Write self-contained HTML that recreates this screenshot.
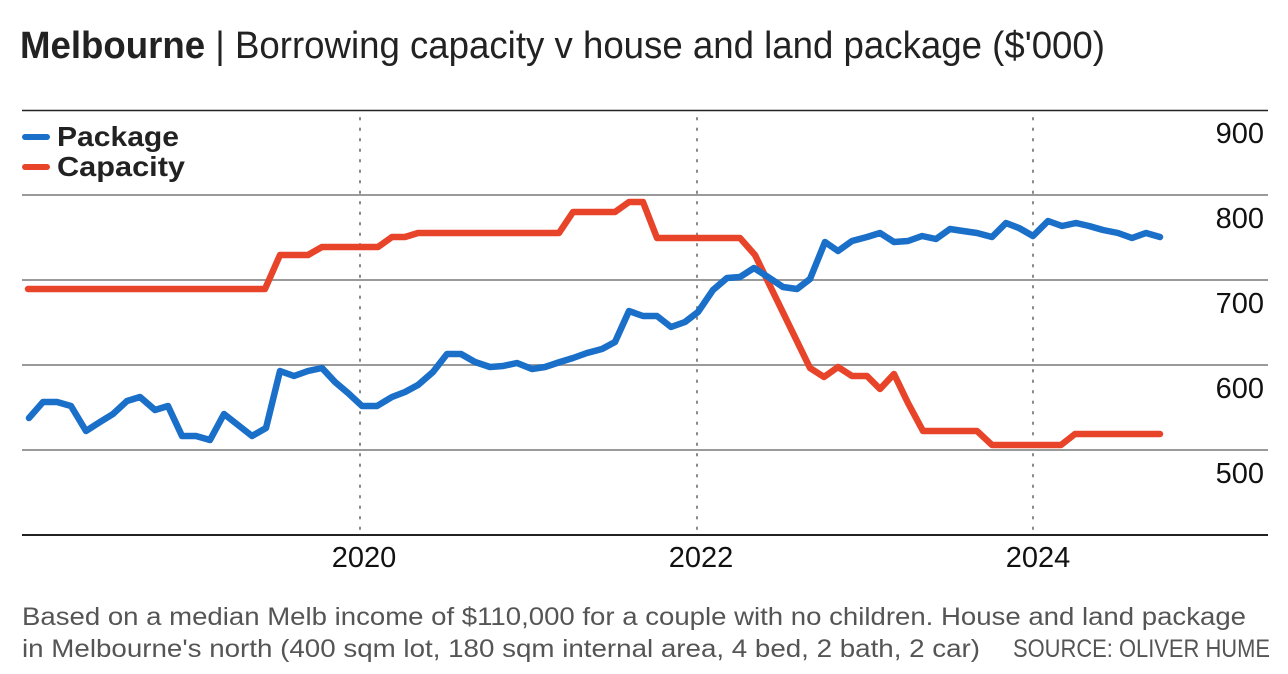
<!DOCTYPE html>
<html><head><meta charset="utf-8"><style>
html,body{margin:0;padding:0;background:#fff;}
svg{display:block;}
</style></head><body>
<svg width="1288" height="674" viewBox="0 0 1288 674" xmlns="http://www.w3.org/2000/svg" font-family="'Liberation Sans',sans-serif">
<text x="20" y="58" font-size="38" fill="#222" textLength="1085" lengthAdjust="spacingAndGlyphs"><tspan font-weight="bold">Melbourne</tspan> | Borrowing capacity v house and land package ($'000)</text>
<line x1="22" y1="110.5" x2="1268" y2="110.5" stroke="#222" stroke-width="1.5"/>
<g stroke="#9a9a9a" stroke-width="2">
<line x1="22" y1="195" x2="1268" y2="195"/>
<line x1="22" y1="280" x2="1268" y2="280"/>
<line x1="22" y1="365" x2="1268" y2="365"/>
<line x1="22" y1="450" x2="1268" y2="450"/>
</g>
<g stroke="#888" stroke-width="2" stroke-dasharray="1.5 9" stroke-linecap="round">
<line x1="360" y1="118" x2="360" y2="530"/>
<line x1="697" y1="118" x2="697" y2="530"/>
<line x1="1033" y1="118" x2="1033" y2="530"/>
</g>
<line x1="22" y1="535" x2="1268" y2="535" stroke="#222" stroke-width="2"/>
<g font-size="29" fill="#111" text-anchor="end">
<text x="1264" y="143">900</text>
<text x="1264" y="228">800</text>
<text x="1264" y="313">700</text>
<text x="1264" y="398">600</text>
<text x="1264" y="483">500</text>
</g>
<g font-size="29" fill="#111" text-anchor="middle">
<text x="364" y="567">2020</text>
<text x="701" y="567">2022</text>
<text x="1038" y="567">2024</text>
</g>
<line x1="25" y1="137" x2="47" y2="137" stroke="#1a6fc9" stroke-width="6" stroke-linecap="round"/>
<line x1="25" y1="167" x2="47" y2="167" stroke="#e8442a" stroke-width="6" stroke-linecap="round"/>
<text x="57" y="146" font-size="28" font-weight="bold" fill="#222" textLength="122" lengthAdjust="spacingAndGlyphs">Package</text>
<text x="57" y="176" font-size="28" font-weight="bold" fill="#222" textLength="128" lengthAdjust="spacingAndGlyphs">Capacity</text>
<polyline fill="none" stroke="#e8442a" stroke-width="6.5" stroke-linejoin="round" stroke-linecap="round" points="28,289 265,289 280,255 308,255 322,247 378,247 392,237 405,237 418,233 559,233 573,212 615,212 629,202 643,202 657,238 740,238 755,255 810,368 824,377 838,367 852,376 867,376 880,389 894,374 908,403 923,431 977,431 992,445 1061,445 1075,434 1160,434"/>
<polyline fill="none" stroke="#1a6fc9" stroke-width="6.5" stroke-linejoin="round" stroke-linecap="round" points="29,418 43,402 57,402 71,406 86,431 100,422 113,414 127,401 140,397 155,410 168,406 182,436 196,436 210,440 224,414 238,425 252,436 266,428 280,371 294,376 308,371 322,368 335,382 348,393 362,406 377,406 392,397 405,392 418,385 433,372 447,354 461,354 475,362 490,367 503,366 517,363 532,369 545,367 560,362 573,358 587,353 602,349 615,342 629,311 643,316 657,316 671,327 685,322 698,312 713,290 727,278 740,277 754,268 768,277 783,287 797,289 810,279 825,242 838,251 852,241 867,237 880,233 894,242 908,241 922,236 936,239 950,229 963,231 977,233 992,237 1006,223 1019,228 1033,236 1048,221 1062,226 1076,223 1089,226 1103,230 1118,233 1132,238 1146,233 1160,237"/>
<g font-size="25" fill="#555">
<text x="22" y="625" textLength="1224" lengthAdjust="spacingAndGlyphs">Based on a median Melb income of $110,000 for a couple with no children. House and land package</text>
<text x="22" y="657" textLength="958" lengthAdjust="spacingAndGlyphs">in Melbourne's north (400 sqm lot, 180 sqm internal area, 4 bed, 2 bath, 2 car)</text>
<text x="1013" y="657" textLength="257" lengthAdjust="spacingAndGlyphs">SOURCE: OLIVER HUME</text>
</g>
</svg>
</body></html>
